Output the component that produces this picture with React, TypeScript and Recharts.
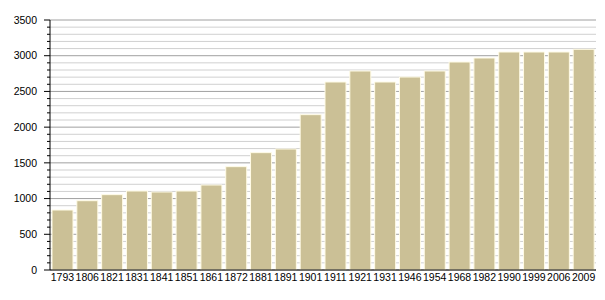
import React from 'react';
import { BarChart, Bar, XAxis, YAxis, CartesianGrid } from 'recharts';

const years = ['1793', '1806', '1821', '1831', '1841', '1851', '1861', '1872', '1881', '1891', '1901',
  '1911', '1921', '1931', '1946', '1954', '1968', '1982', '1990', '1999', '2006', '2009'];
const population = [840, 970, 1055, 1106, 1092, 1106, 1190, 1447, 1643, 1694, 2175,
  2632, 2786, 2632, 2702, 2786, 2912, 2968, 3052, 3052, 3052, 3090];
const majorTicks = [0, 500, 1000, 1500, 2000, 2500, 3000, 3500];
const tickStep = 100;

const allTicks: number[] = [];
for (let v = 0; v <= majorTicks[majorTicks.length - 1]; v += tickStep) allTicks.push(v);

const data = years.map((year, i) => ({ year, population: population[i] }));

const FONT = '"Liberation Sans", Arial, sans-serif';

const YTick = (props: any) => {
    const { x, y, payload } = props;
    const major = payload.value % 500 === 0;
    return (
        <g>
            <line x1={x - (major ? 6 : 3)} x2={x} y1={y} y2={y} stroke="#000" strokeWidth={1} />
            {major && (
                <text x={x - 13} y={y} dy="0.36em" textAnchor="end" fontSize={10.5} fontFamily={FONT} fill="#000">
                    {payload.value}
                </text>
            )}
        </g>
    );
};

const gridLine = (props: any) => {
    const { x1, x2, y1, y2, index } = props;
    const major = index % 5 === 0;
    return (
        <line key={`g-${index}`} x1={x1} x2={x2} y1={y1} y2={y2}
            stroke={major ? '#a0a0a0' : '#d0d0d0'} strokeWidth={1} />
    );
};

export default function App() {
    return (
        <div style={{ width: 605, height: 300, background: '#fff' }}>
            <style>{'body{margin:0}'}</style>
            <BarChart width={605} height={300} data={data}
                margin={{ top: 20, right: 9, bottom: 0, left: 0 }} barCategoryGap={2}>
                <CartesianGrid vertical={false} horizontal={gridLine} />
                <XAxis dataKey="year" height={30} interval={0} tickLine={false} tickSize={0} tickMargin={4}
                    axisLine={{ stroke: '#000' }}
                    tick={{ fontSize: 10.5, fontFamily: FONT, fill: '#000' }} />
                <YAxis width={50} domain={[0, 3500]} ticks={allTicks} interval={0}
                    tickSize={0} tickMargin={0} tickLine={false}
                    axisLine={{ stroke: '#000' }} tick={<YTick />} />
                <Bar dataKey="population" fill="#cbc096" stroke="#fffbe6" strokeWidth={1}
                    isAnimationActive={false} />
            </BarChart>
        </div>
    );
}
